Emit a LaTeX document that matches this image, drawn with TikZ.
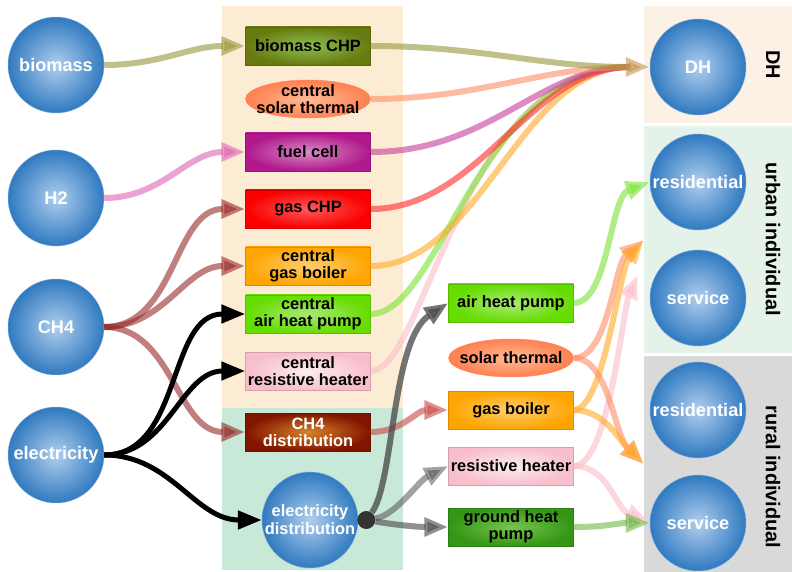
\documentclass[tikz,border=0pt]{standalone}
\usepackage{fontspec}
\setmainfont{Liberation Sans}
\usepackage{xcolor}
\definecolor{hubin}{RGB}{176,206,238}
\definecolor{hubout}{RGB}{48,122,192}
\definecolor{panelcentral}{RGB}{253,236,212}
\definecolor{paneldist}{RGB}{200,232,216}
\definecolor{paneldh}{RGB}{252,241,229}
\definecolor{panelurban}{RGB}{228,242,234}
\definecolor{panelrural}{RGB}{217,217,217}
% box fills
\definecolor{bioout}{RGB}{104,122,16}
\definecolor{bioin}{RGB}{140,192,80}
\definecolor{solout}{RGB}{255,128,80}
\definecolor{solin}{RGB}{255,186,152}
\definecolor{fcout}{RGB}{176,24,140}
\definecolor{fcin}{RGB}{216,140,196}
\definecolor{chpout}{RGB}{250,0,0}
\definecolor{chpin}{RGB}{255,90,90}
\definecolor{boilout}{RGB}{255,165,0}
\definecolor{boilin}{RGB}{255,205,110}
\definecolor{ahpout}{RGB}{102,221,0}
\definecolor{ahpin}{RGB}{170,232,120}
\definecolor{resout}{RGB}{248,190,204}
\definecolor{resin}{RGB}{250,238,240}
\definecolor{distout}{RGB}{130,20,0}
\definecolor{distin}{RGB}{214,130,40}
\definecolor{ghpout}{RGB}{52,150,20}
\definecolor{ghpin}{RGB}{120,196,80}
% flow colours
\definecolor{biomassline}{RGB}{150,152,60}
\definecolor{htwoline}{RGB}{220,100,180}
\definecolor{chfourline}{RGB}{150,40,40}
\definecolor{solarline}{RGB}{255,140,100}
\definecolor{fcline}{RGB}{196,60,156}
\definecolor{chpline}{RGB}{255,40,40}
\definecolor{boilline}{RGB}{255,170,40}
\definecolor{ahpline}{RGB}{120,226,50}
\definecolor{resline}{RGB}{250,190,200}
\definecolor{gasline}{RGB}{200,70,70}
\definecolor{greyline}{RGB}{70,70,70}
\definecolor{ghpline}{RGB}{110,185,70}
\definecolor{dhtip}{RGB}{196,150,80}
\usepackage{tikz}
\usetikzlibrary{shapes.geometric,arrows.meta,positioning,calc}

\begin{document}
\begin{tikzpicture}[
  x=0.03cm, y=-0.03cm,
  hub/.style={circle, minimum size=2.88cm, inner sep=-4mm, inner color=hubin, outer color=hubout, draw=hubout!60!white, line width=0.4pt, text=white, font=\fontsize{15.5}{17}\selectfont\bfseries, align=center},
  tech/.style 2 args={rectangle, minimum width=3.75cm, minimum height=1.14cm, inner sep=0pt, outer color=#1, inner color=#2, draw=#1!85!black, line width=0.4pt, font=\fontsize{14}{14.5}\selectfont\bfseries, align=center},
  sun/.style={ellipse, minimum width=3.75cm, minimum height=1.14cm, inner xsep=-4mm, inner ysep=-2mm, outer color=solout, inner color=solin, draw=solout!90!white, line width=0.4pt, font=\fontsize{14}{14.5}\selectfont\bfseries, align=center},
  junction/.style={circle, fill=black!80, minimum size=0.54cm, inner sep=0pt},
  zone/.style={rotate=-90, font=\fontsize{17}{19}\selectfont\bfseries},
  flow/.style={line width=0.18cm, opacity=0.6, -{Triangle[length=0.72cm,width=0.54cm]}},
  feeder/.style={line width=0.18cm, opacity=0.6, shorten >=0.6cm},
  wire/.style={line width=0.15cm, -{Triangle[length=0.72cm,width=0.54cm]}}
]
\useasboundingbox (0,0) rectangle (792,572);
% panels
\fill[panelcentral] (222,6) rectangle (403,408);
\fill[paneldist] (222,408) rectangle (403,570);
\fill[paneldh] (644,6) rectangle (792,123);
\fill[panelurban] (644,126) rectangle (792,353);
\fill[panelrural] (644,356) rectangle (792,572);

% sources
\node[hub] (biomass) at (56,65) {biomass};
\node[hub] (htwo) at (56,198) {H2};
\node[hub] (chfour) at (56,327) {CH4};
\node[hub] (elec) at (56,455) {electricity};

% central supply
\node[tech={bioout}{bioin}] (bchp) at (308,46) {biomass CHP};
\node[sun] (csolar) at (308,99) {central\\solar thermal};
\node[tech={fcout}{fcin}] (fcell) at (308,152) {fuel cell};
\node[tech={chpout}{chpin}] (gchp) at (308,209) {gas CHP};
\node[tech={boilout}{boilin}] (cgboil) at (308,266) {central\\gas boiler};
\node[tech={ahpout}{ahpin}] (cahp) at (308,314) {central\\air heat pump};
\node[tech={resout}{resin}] (cres) at (308,371) {central\\resistive heater};
\node[tech={distout}{distin}, text=white] (chdist) at (308,432) {CH4\\distribution};
\node[hub, font=\fontsize{14}{15.5}\selectfont\bfseries] (edist) at (310,520) {electricity\\distribution};
\node[junction, right=-1pt of edist] (ejunc) {};

% individual supply
\node[tech={ahpout}{ahpin}] (ahp) at (511,303) {air heat pump};
\node[sun] (solar) at (511,358) {solar thermal};
\node[tech={boilout}{boilin}] (gboil) at (511,410) {gas boiler};
\node[tech={resout}{resin}] (res) at (511,466) {resistive heater};
\node[tech={ghpout}{ghpin}] (ghp) at (511,527) {ground heat\\pump};

% demand
\node[hub] (dh) at (698,67) {DH};
\node[hub] (ures) at (698,182) {residential};
\node[hub] (userv) at (698,298) {service};
\node[hub] (rres) at (698,410) {residential};
\node[hub] (rserv) at (698,523) {service};
\node[zone] (dhlabel) at (773,65) {DH};
\node[zone] (urbanlabel) at (773,239) {urban individual};
\node[zone] (rurallabel) at (773,477) {rural individual};

\coordinate (urbanin) at ($(ures.west)!0.5!(userv.west)+(-6,0)$);
\coordinate (urbanpink) at ($(ures.west)!0.8!(userv.west)+(-12,0)$);
\coordinate (ruralin) at ($(rres.west)!0.48!(rserv.west)+(-6,0)$);

% inputs to central supply
\draw[flow, biomassline] (biomass) to[out=0,in=180] (bchp);
\draw[flow, htwoline] (htwo) to[out=0,in=180] (fcell);
\draw[flow, chfourline] (chfour) to[out=0,in=180] (gchp);
\draw[flow, chfourline] (chfour) to[out=0,in=180] (cgboil);
\draw[flow, chfourline] (chfour) to[out=0,in=180] (chdist);
\draw[wire] (elec) to[out=0,in=180] (cahp);
\draw[wire] (elec) to[out=0,in=180] (cres);
\draw[wire] (elec) to[out=0,in=180] (edist);

% district heating
\draw[feeder, resline] (cres.east) .. controls +(55,0) and +(-190,0) .. (dh.west);
\draw[feeder, ahpline] (cahp.east) .. controls +(70,0) and +(-170,0) .. (dh.west);
\draw[feeder, boilline] (cgboil.east) .. controls +(110,0) and +(-130,0) .. (dh.west);
\draw[feeder, chpline] (gchp.east) .. controls +(110,0) and +(-120,0) .. (dh.west);
\draw[feeder, fcline] (fcell.east) .. controls +(120,0) and +(-110,0) .. (dh.west);
\draw[feeder, solarline] (csolar) to[out=0,in=180] (dh);
\draw[flow, biomassline, -{Triangle[length=0.72cm,width=0.54cm,color=dhtip]}] (bchp) to[out=0,in=180] (dh);

% distribution to individual supply
\draw[flow, gasline] (chdist) to[out=0,in=180] (gboil);
\draw[flow, greyline, opacity=0.75] (ejunc) .. controls +(28,-38) and +(-57,37) .. (ahp.west);
\draw[flow, greyline, opacity=0.5] (ejunc) .. controls +(30,-5) and +(-30,15) .. (res.west);
\draw[flow, greyline, opacity=0.6] (ejunc) .. controls +(30,5) and +(-30,0) .. (ghp.west);

% individual supply to demand
\draw[flow, ahpline] (ahp.east) .. controls +(35,0) and +(-40,15) .. (ures.west);
\draw[flow, solarline] (solar.east) .. controls +(35,0) and +(-30,25) .. (urbanin);
\draw[flow, boilline] (gboil.east) .. controls +(30,0) and +(-25,30) .. (urbanin);
\draw[flow, resline] (res.east) .. controls +(35,0) and +(-15,35) .. (urbanpink);
\draw[flow, solarline] (solar.east) .. controls +(35,0) and +(-30,-30) .. (ruralin);
\draw[flow, boilline] (gboil.east) .. controls +(30,0) and +(-25,-25) .. (ruralin);
\draw[flow, resline] (res.east) .. controls +(35,0) and +(-35,-15) .. (rserv.west);
\draw[flow, ghpline] (ghp.east) .. controls +(35,0) and +(-35,0) .. (rserv.west);
\end{tikzpicture}
\end{document}
